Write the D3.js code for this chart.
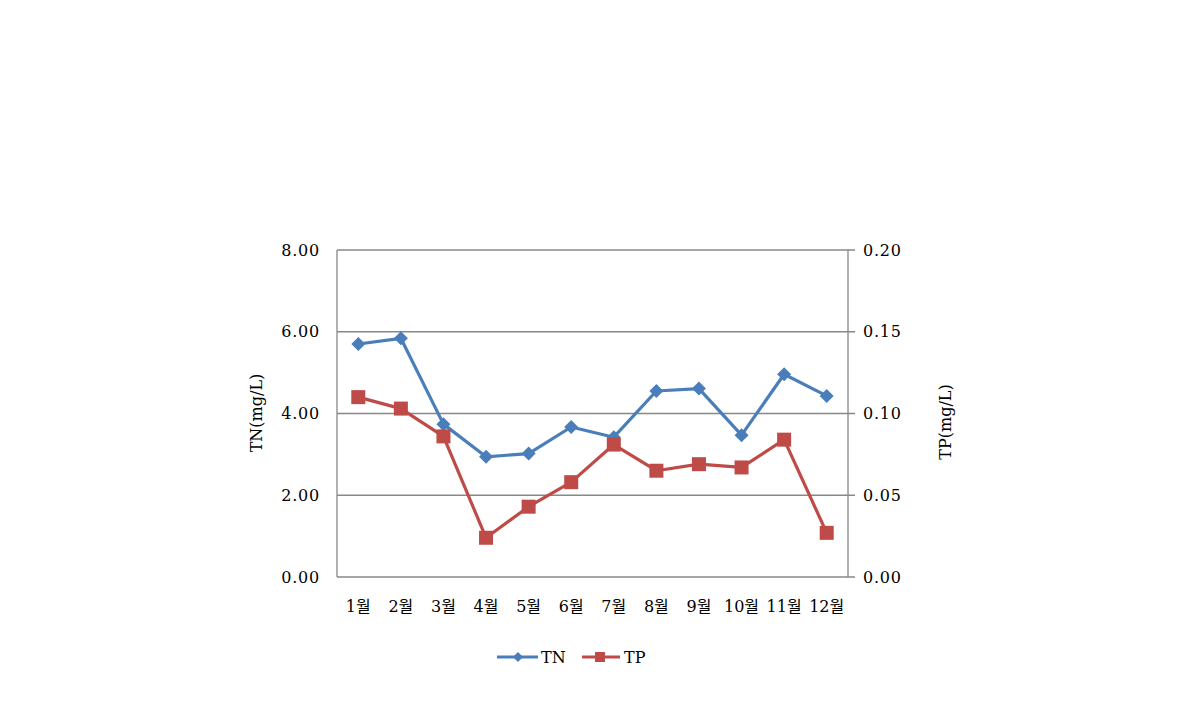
<!DOCTYPE html>
<html><head><meta charset="utf-8">
<script src="https://cdn.jsdelivr.net/npm/d3@7"></script>
<style>body{margin:0;background:#fff}svg{display:block}text{font-family:"DejaVu Serif","Noto Sans CJK KR",serif;fill:#000}</style>
</head><body><svg id="c" width="1190" height="703"></svg>
<script>
const months = ["1월","2월","3월","4월","5월","6월","7월","8월","9월","10월","11월","12월"];
const tnValues = [5.70,5.84,3.74,2.94,3.02,3.67,3.42,4.55,4.61,3.47,4.96,4.43];
const tpValues = [0.110,0.103,0.086,0.024,0.043,0.058,0.081,0.065,0.069,0.067,0.084,0.027];
const leftTicks = [0,2,4,6,8];
const rightTicks = [0,0.05,0.10,0.15,0.20];
const seriesNames = ["TN","TP"];
const colors = {TN:"#4A7EBB", TP:"#BE4B48"};

const svg = d3.select("#c");
const L=337,R=848,T=250,B=577;
const x = d3.scaleBand().domain(months).range([L,R]);
const yL = d3.scaleLinear().domain([0,8]).range([B,T]);
const yR = d3.scaleLinear().domain([0,0.2]).range([B,T]);
const grid="#878787";

svg.append("g").selectAll("line").data(leftTicks).join("line")
  .attr("x1",L).attr("x2",R+7).attr("y1",d=>yL(d)).attr("y2",d=>yL(d))
  .attr("stroke",grid).attr("stroke-width",1.3);
svg.append("line").attr("x1",L).attr("x2",L).attr("y1",T).attr("y2",B).attr("stroke",grid).attr("stroke-width",1.3);
svg.append("line").attr("x1",R).attr("x2",R).attr("y1",T).attr("y2",B).attr("stroke",grid).attr("stroke-width",1.3);

svg.append("g").selectAll("text").data(leftTicks).join("text")
  .attr("x",320).attr("y",d=>yL(d)).attr("dy","0.35em").attr("text-anchor","end")
  .attr("font-size",16).attr("letter-spacing",0.8).text(d=>d3.format(".2f")(d));
svg.append("g").selectAll("text").data(rightTicks).join("text")
  .attr("x",863).attr("y",d=>yR(d)).attr("dy","0.35em").attr("text-anchor","start")
  .attr("font-size",16).attr("letter-spacing",0.8).text(d=>d3.format(".2f")(d));
svg.append("g").selectAll("text").data(months).join("text")
  .attr("x",d=>x(d)+x.bandwidth()/2).attr("y",606).attr("dy","0.35em").attr("text-anchor","middle")
  .attr("font-size",16).text(d=>d);
svg.append("text").attr("transform","translate(256,413) rotate(-90)").attr("text-anchor","middle")
  .attr("dy","0.35em").attr("font-size",16).text("TN(mg/L)");
svg.append("text").attr("transform","translate(945,422) rotate(-90)").attr("text-anchor","middle")
  .attr("dy","0.35em").attr("font-size",16).text("TP(mg/L)");

const cx = d=>x(d)+x.bandwidth()/2;
svg.append("path").datum(tnValues)
  .attr("d",d3.line().x((d,i)=>cx(months[i])).y(d=>yL(d)))
  .attr("fill","none").attr("stroke",colors.TN).attr("stroke-width",3.2).attr("stroke-linejoin","round");
svg.append("g").selectAll("path").data(tnValues).join("path")
  .attr("transform",(d,i)=>`translate(${cx(months[i])},${yL(d)})`)
  .attr("d","M0,-7L7,0L0,7L-7,0Z").attr("fill",colors.TN);
svg.append("path").datum(tpValues)
  .attr("d",d3.line().x((d,i)=>cx(months[i])).y(d=>yR(d)))
  .attr("fill","none").attr("stroke",colors.TP).attr("stroke-width",3.2).attr("stroke-linejoin","round");
svg.append("g").selectAll("rect").data(tpValues).join("rect")
  .attr("x",(d,i)=>cx(months[i])-7).attr("y",d=>yR(d)-7).attr("width",14).attr("height",14).attr("fill",colors.TP);

const lg = svg.append("g");
const ly=657;
lg.append("line").attr("x1",497).attr("x2",538).attr("y1",ly).attr("y2",ly).attr("stroke",colors.TN).attr("stroke-width",3.2);
lg.append("path").attr("transform",`translate(518,${ly})`).attr("d","M0,-5L5,0L0,5L-5,0Z").attr("fill",colors.TN);
lg.append("text").attr("x",541).attr("y",ly).attr("dy","0.35em").attr("font-size",16).text(seriesNames[0]);
lg.append("line").attr("x1",582).attr("x2",620).attr("y1",ly).attr("y2",ly).attr("stroke",colors.TP).attr("stroke-width",3.2);
lg.append("rect").attr("x",595).attr("y",ly-5).attr("width",10).attr("height",10).attr("fill",colors.TP);
lg.append("text").attr("x",624).attr("y",ly).attr("dy","0.35em").attr("font-size",16).text(seriesNames[1]);
</script></body></html>
